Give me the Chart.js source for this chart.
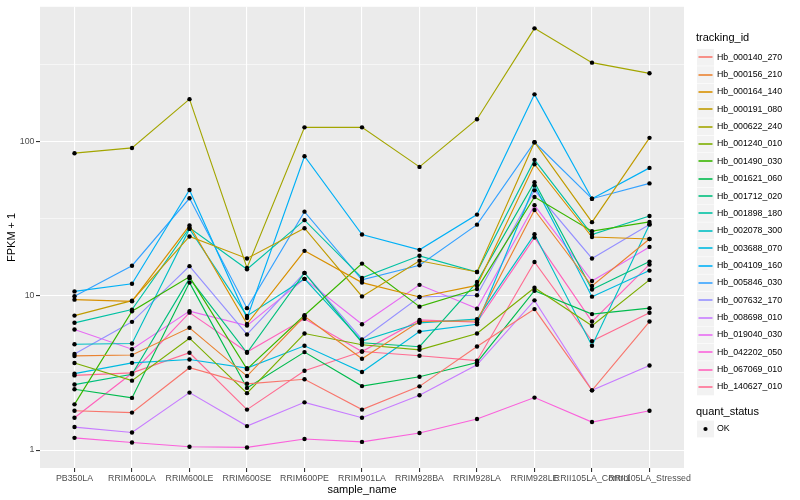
<!DOCTYPE html>
<html>
<head>
<meta charset="utf-8">
<script src="https://cdn.jsdelivr.net/npm/chart.js@4.4.1/dist/chart.umd.min.js"></script>
<style>
  html, body { margin: 0; padding: 0; background: #fff; }
  #wrap { width: 800px; height: 500px; }
</style>
</head>
<body>
<div id="wrap"><canvas id="fpkmChart" width="800" height="500"></canvas></div>
<script>
// categorias do eixo x
const samples = ['PB350LA', 'RRIM600LA', 'RRIM600LE', 'RRIM600SE', 'RRIM600PE', 'RRIM901LA',
    'RRIM928BA', 'RRIM928LA', 'RRIM928LE', 'RRII105LA_Control', 'RRII105LA_Stressed'];

const trackingIds = ['Hb_000140_270', 'Hb_000156_210', 'Hb_000164_140', 'Hb_000191_080', 'Hb_000622_240',
    'Hb_001240_010', 'Hb_001490_030', 'Hb_001621_060', 'Hb_001712_020', 'Hb_001898_180',
    'Hb_002078_300', 'Hb_003688_070', 'Hb_004109_160', 'Hb_005846_030', 'Hb_007632_170',
    'Hb_008698_010', 'Hb_019040_030', 'Hb_042202_050', 'Hb_067069_010', 'Hb_140627_010'];

// FPKM + 1 por amostra
const hb_000140_270 = [1.80, 1.75, 3.42, 2.69, 2.88, 1.83, 2.59, 4.70, 8.21, 2.44, 6.82];
const hb_000156_210 = [4.08, 4.14, 6.21, 3.02, 7.38, 3.91, 6.82, 6.89, 36.1, 11.6, 23.4];
const hb_000164_140 = [9.46, 9.22, 28.6, 6.57, 19.6, 12.2, 9.84, 11.7, 71.5, 24.1, 23.4];
const hb_000191_080 = [7.45, 9.32, 24.3, 17.5, 27.5, 9.93, 16.9, 14.3, 99.3, 30.1, 106];
const hb_000622_240 = [84.3, 91.2, 189, 15.2, 124, 124, 68.7, 140, 544, 326, 278];
const hb_001240_010 = [3.67, 2.82, 5.32, 2.34, 5.70, 4.82, 4.47, 5.70, 11.3, 6.40, 12.7];
const hb_001490_030 = [1.98, 7.95, 13.3, 3.35, 7.49, 16.2, 8.52, 11.1, 43.8, 26.3, 30.2];
const hb_001621_060 = [2.48, 2.18, 12.2, 2.53, 4.32, 2.60, 2.99, 3.70, 10.8, 7.62, 8.33];
const hb_001712_020 = [2.66, 3.10, 13.0, 4.28, 14.1, 4.97, 4.68, 12.3, 54.7, 11.0, 16.7];
const hb_001898_180 = [6.69, 8.15, 27.7, 14.9, 31.0, 13.1, 18.2, 14.3, 76.3, 25.0, 33.0];
const hb_002078_300 = [4.86, 4.91, 27.2, 7.42, 12.9, 5.09, 6.69, 7.07, 25.1, 4.75, 29.1];
const hb_003688_070 = [3.13, 3.68, 3.87, 3.40, 4.75, 3.21, 5.87, 6.55, 52.1, 9.89, 14.6];
const hb_004109_160 = [10.7, 12.0, 48.6, 7.18, 80.6, 25.0, 19.9, 33.7, 203, 42.7, 67.7];
const hb_005846_030 = [9.96, 15.7, 43.0, 8.33, 35.2, 12.7, 15.8, 29.0, 99.3, 42.7, 53.7];
const hb_007632_170 = [4.20, 6.79, 15.6, 5.62, 14.1, 5.22, 9.84, 10.1, 48.4, 17.5, 29.1];
const hb_008698_010 = [1.41, 1.30, 2.36, 1.43, 2.04, 1.62, 2.27, 3.57, 9.36, 2.44, 3.54];
const hb_019040_030 = [6.05, 4.51, 7.97, 6.42, 12.9, 6.55, 11.8, 8.27, 38.7, 12.5, 20.8];
const hb_042202_050 = [1.20, 1.12, 1.05, 1.04, 1.18, 1.13, 1.29, 1.59, 2.19, 1.52, 1.80];
const hb_067069_010 = [1.62, 3.15, 7.79, 4.33, 7.10, 4.36, 6.99, 6.75, 23.9, 6.82, 16.0];
const hb_140627_010 = [3.05, 3.17, 4.28, 1.83, 3.27, 4.36, 4.09, 3.80, 16.6, 5.09, 7.77];

const fpkmSeries = [hb_000140_270, hb_000156_210, hb_000164_140, hb_000191_080, hb_000622_240,
    hb_001240_010, hb_001490_030, hb_001621_060, hb_001712_020, hb_001898_180,
    hb_002078_300, hb_003688_070, hb_004109_160, hb_005846_030, hb_007632_170,
    hb_008698_010, hb_019040_030, hb_042202_050, hb_067069_010, hb_140627_010];

const yTicks = [1, 10, 100];
const quantStatus = ['OK'];

// paleta padrão do ggplot (hue) para 20 níveis
const lineColors = ['#F8766D', '#EA8331', '#D89000', '#C09B00', '#A3A500', '#7CAE00', '#39B600',
    '#00BB4E', '#00BF7D', '#00C1A3', '#00BFC4', '#00BAE0', '#00B0F6', '#35A2FF', '#9590FF',
    '#C77CFF', '#E76BF3', '#FA62DB', '#FF62BC', '#FF6C91'];

const FONT = "'Liberation Sans', Arial, sans-serif";

// linhas minor entre as marcas principais (escala log)
const yGridValues = [];
yTicks.forEach(t => { yGridValues.push(t); yGridValues.push(t * Math.sqrt(10)); });

const lineDatasets = fpkmSeries.map((vals, k) => ({
    type: 'line',
    label: trackingIds[k],
    data: vals.map((v, i) => ({ x: i, y: v })),
    borderColor: lineColors[k],
    borderWidth: 1.15,
    pointRadius: 0,
    fill: false,
    order: 1
}));

const pointData = [];
fpkmSeries.forEach(vals => vals.forEach((v, i) => pointData.push({ x: i, y: v })));

const pointDataset = {
    type: 'scatter',
    label: quantStatus[0],
    data: pointData,
    pointRadius: 2.2,
    pointBackgroundColor: '#000',
    pointBorderWidth: 0,
    order: 0
};

// fundo cinza do painel
const panelBg = {
    id: 'panelBg',
    beforeDraw(chart) {
        const { ctx, chartArea: a } = chart;
        ctx.save();
        ctx.fillStyle = '#EBEBEB';
        ctx.fillRect(a.left, a.top, a.right - a.left, a.bottom - a.top);
        ctx.restore();
    }
};

// legenda no estilo ggplot
const ggLegend = {
    id: 'ggLegend',
    afterDraw(chart) {
        const ctx = chart.ctx;
        const x0 = 697, row = 17.35, y0 = 57.3;
        ctx.save();
        ctx.textBaseline = 'middle';
        ctx.textAlign = 'left';
        ctx.fillStyle = '#000';
        ctx.font = '11px ' + FONT;
        ctx.fillText('tracking_id', x0 - 1, 38);
        ctx.font = '8.8px ' + FONT;
        trackingIds.forEach((id, i) => {
            const cy = y0 + i * row;
            ctx.fillStyle = '#F2F2F2';
            ctx.fillRect(x0, cy - 8.4, 17, 16.8);
            ctx.strokeStyle = lineColors[i];
            ctx.lineWidth = 1.6;
            ctx.beginPath();
            ctx.moveTo(x0 + 1.5, Math.round(cy));
            ctx.lineTo(x0 + 15.5, Math.round(cy));
            ctx.stroke();
            ctx.fillStyle = '#000';
            ctx.fillText(id, x0 + 20, cy);
        });
        ctx.font = '11px ' + FONT;
        ctx.fillText('quant_status', x0 - 1, 412);
        const cy = 429;
        ctx.fillStyle = '#F2F2F2';
        ctx.fillRect(x0, cy - 8.4, 17, 16.8);
        ctx.fillStyle = '#000';
        ctx.beginPath();
        ctx.arc(x0 + 8.5, cy, 2.1, 0, Math.PI * 2);
        ctx.fill();
        ctx.font = '8.8px ' + FONT;
        ctx.fillText(quantStatus[0], x0 + 20, cy);
        ctx.restore();
    }
};

new Chart(document.getElementById('fpkmChart'), {
    type: 'line',
    data: { datasets: [pointDataset, ...lineDatasets] },
    options: {
        responsive: false,
        animation: false,
        devicePixelRatio: 1,
        layout: { padding: { top: 5, right: 116, bottom: 0, left: 0 } },
        plugins: {
            legend: { display: false },
            tooltip: { enabled: false }
        },
        scales: {
            x: {
                type: 'linear',
                min: -0.6,
                max: samples.length - 0.4,
                afterBuildTicks: scale => { scale.ticks = samples.map((s, i) => ({ value: i })); },
                afterFit: scale => { scale.height = 32; },
                ticks: {
                    autoSkip: false,
                    maxRotation: 0,
                    minRotation: 0,
                    padding: 1.5,
                    color: '#4D4D4D',
                    font: { family: FONT, size: 8.8 },
                    callback: v => samples[v]
                },
                grid: { color: '#FFFFFF', lineWidth: 1.1, tickLength: 4, tickColor: '#333333' },
                border: { display: false },
                title: {
                    display: true,
                    text: 'sample_name',
                    color: '#000',
                    font: { family: FONT, size: 11 },
                    padding: { top: 0, bottom: 3 }
                }
            },
            y: {
                type: 'logarithmic',
                min: 0.765,
                max: 751,
                afterBuildTicks: scale => { scale.ticks = yGridValues.map(v => ({ value: v })); },
                afterFit: scale => { scale.width = 40; },
                ticks: {
                    padding: 1.5,
                    color: '#4D4D4D',
                    font: { family: FONT, size: 8.8 },
                    callback: v => yTicks.includes(v) ? String(v) : ''
                },
                grid: {
                    color: '#FFFFFF',
                    lineWidth: ctx => yTicks.includes(ctx.tick && ctx.tick.value) ? 1.1 : 0.55,
                    tickLength: 4,
                    tickColor: ctx => yTicks.includes(ctx.tick && ctx.tick.value) ? '#333333' : 'rgba(0,0,0,0)'
                },
                border: { display: false },
                title: {
                    display: true,
                    text: 'FPKM + 1',
                    color: '#000',
                    font: { family: FONT, size: 11 },
                    padding: { top: 5, bottom: 0 }
                }
            }
        }
    },
    plugins: [panelBg, ggLegend]
});
</script>
</body>
</html>
